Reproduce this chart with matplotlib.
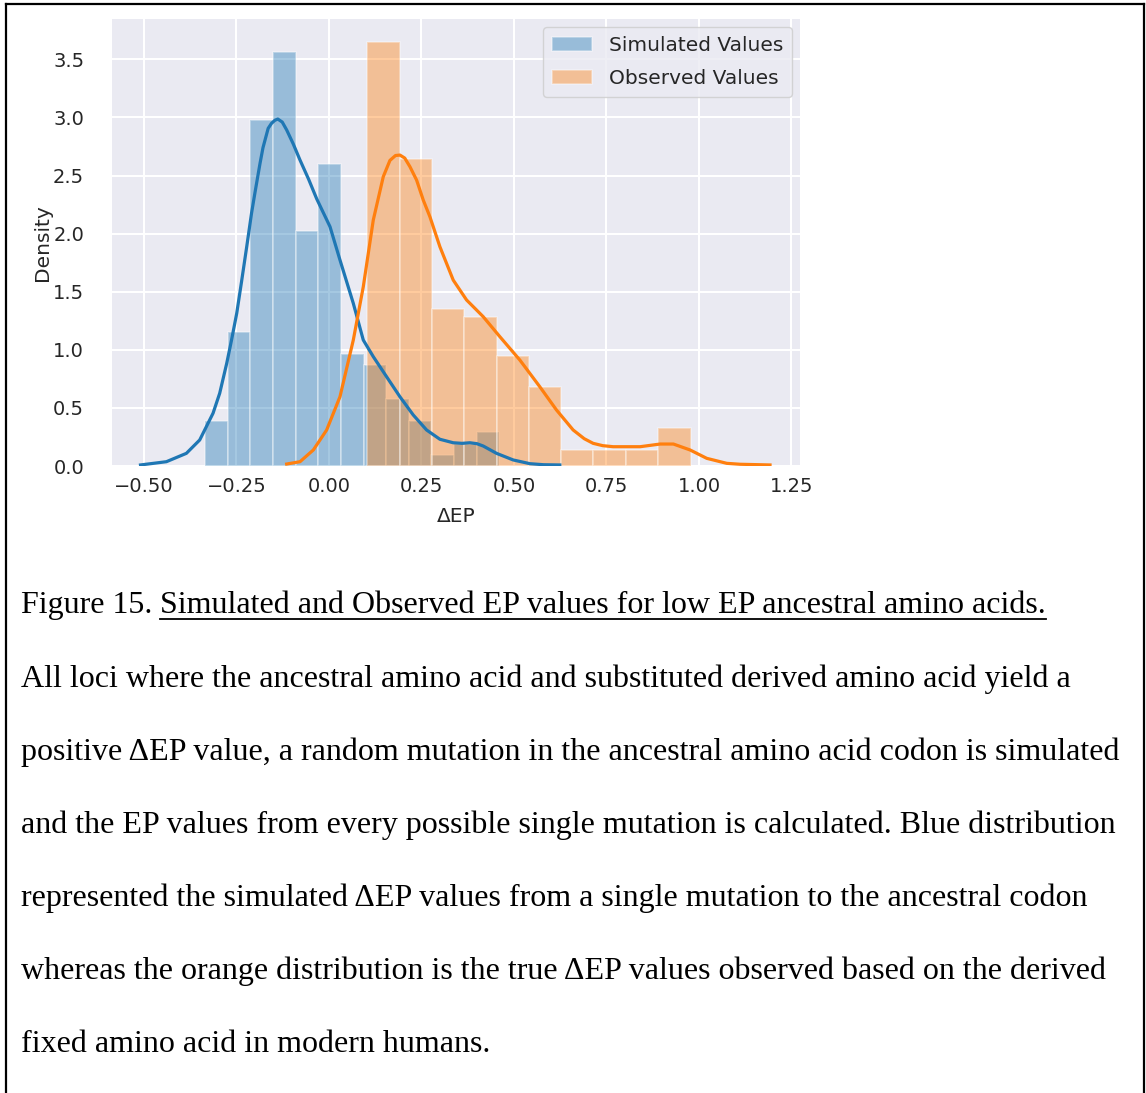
import matplotlib.pyplot as plt
import numpy as np
from matplotlib.lines import Line2D

# Histogram bins and densities for the two distributions
sim_edges = [-0.334, -0.273, -0.212, -0.151, -0.090, -0.029, 0.033, 0.094,
             0.155, 0.216, 0.277, 0.338, 0.399, 0.460]
sim_density = [0.385, 1.154, 2.98, 3.56, 2.02, 2.60, 0.962, 0.866,
               0.577, 0.385, 0.096, 0.192, 0.289]

obs_edges = [0.104, 0.191, 0.278, 0.366, 0.453, 0.541, 0.628, 0.715,
             0.803, 0.890, 0.978]
obs_density = [3.65, 2.64, 1.35, 1.28, 0.95, 0.68, 0.135, 0.135, 0.135, 0.33]

# KDE curves
sim_kde_x = [-0.509, -0.439, -0.385, -0.349, -0.313, -0.295, -0.276, -0.263,
             -0.249, -0.236, -0.222, -0.209, -0.200, -0.186, -0.178, -0.164,
             -0.155, -0.146, -0.138, -0.126, -0.114, -0.096, -0.078, -0.055,
             -0.033, 0.003, 0.030, 0.066, 0.093, 0.120, 0.156, 0.192, 0.228,
             0.264, 0.300, 0.336, 0.360, 0.381, 0.400, 0.417, 0.453, 0.498,
             0.543, 0.580, 0.624]
sim_kde_y = [0.009, 0.037, 0.109, 0.224, 0.454, 0.626, 0.884, 1.084,
             1.314, 1.586, 1.887, 2.175, 2.347, 2.605, 2.740, 2.906,
             2.949, 2.975, 2.986, 2.960, 2.892, 2.770, 2.633, 2.470,
             2.300, 2.060, 1.773, 1.400, 1.084, 0.941, 0.768, 0.596, 0.439,
             0.310, 0.230, 0.200, 0.195, 0.200, 0.192, 0.172, 0.109, 0.052,
             0.020, 0.011, 0.009]

obs_kde_x = [-0.114, -0.078, -0.042, -0.006, 0.030, 0.066, 0.093, 0.120,
             0.147, 0.165, 0.180, 0.192, 0.205, 0.219, 0.237, 0.255, 0.273,
             0.300, 0.336, 0.372, 0.417, 0.462, 0.516, 0.570, 0.615, 0.660,
             0.690, 0.714, 0.740, 0.768, 0.841, 0.895, 0.931, 0.976, 1.021,
             1.075, 1.111, 1.192]
obs_kde_y = [0.017, 0.037, 0.138, 0.310, 0.596, 1.084, 1.543, 2.117,
             2.490, 2.630, 2.672, 2.676, 2.650, 2.576, 2.461, 2.289, 2.145,
             1.887, 1.600, 1.429, 1.285, 1.113, 0.912, 0.682, 0.482, 0.310,
             0.235, 0.195, 0.175, 0.166, 0.166, 0.189, 0.189, 0.138, 0.066,
             0.023, 0.015, 0.009]

x_ticks = [-0.50, -0.25, 0.00, 0.25, 0.50, 0.75, 1.00, 1.25]
y_ticks = [0.0, 0.5, 1.0, 1.5, 2.0, 2.5, 3.0, 3.5]

caption_title = "Simulated and Observed EP values for low EP ancestral amino acids."
caption_lines = [
    "All loci where the ancestral amino acid and substituted derived amino acid yield a",
    "positive \u0394EP value, a random mutation in the ancestral amino acid codon is simulated",
    "and the EP values from every possible single mutation is calculated. Blue distribution",
    "represented the simulated \u0394EP values from a single mutation to the ancestral codon",
    "whereas the orange distribution is the true \u0394EP values observed based on the derived",
    "fixed amino acid in modern humans.",
]

W, H = 1146, 1093
fig = plt.figure(figsize=(W / 100, H / 100), dpi=100)
fig.patch.set_facecolor('white')

ax = fig.add_axes([112 / W, 1 - 466 / H, 688 / W, 447 / H])
ax.set_facecolor('#EAEAF2')
for sp in ax.spines.values():
    sp.set_visible(False)
ax.grid(True, color='white', linewidth=1.5)
ax.set_axisbelow(True)

blue, orange = '#1f77b4', '#ff7f0e'

ax.bar(sim_edges[:-1], sim_density, width=np.diff(sim_edges), align='edge',
       color=blue, alpha=0.4, edgecolor='white', linewidth=1.2,
       label='Simulated Values')
ax.plot(sim_kde_x, sim_kde_y, color=blue, linewidth=2.3,
        solid_joinstyle='round')

ax.bar(obs_edges[:-1], obs_density, width=np.diff(obs_edges), align='edge',
       color=orange, alpha=0.4, edgecolor='white', linewidth=1.2,
       label='Observed Values')
ax.plot(obs_kde_x, obs_kde_y, color=orange, linewidth=2.3,
        solid_joinstyle='round')

ax.set_xlim(-0.586, 1.273)
ax.set_ylim(0, 3.847)
ax.set_xticks(x_ticks)
ax.set_yticks(y_ticks)
ax.tick_params(length=0, labelsize=14, labelcolor='0.15')
ax.tick_params(axis='y', pad=20)
ax.tick_params(axis='x', pad=8)

ax.set_ylabel('Density', fontsize=14.5, color='0.15')
ax.set_xlabel('\u0394EP', fontsize=14.5, color='0.15')
ax.yaxis.set_label_coords(-0.087, 0.5)
ax.xaxis.set_label_coords(0.5, -0.092)

leg = ax.legend(loc='upper right', fontsize=14.5, frameon=True,
                facecolor='#EAEAF2', edgecolor='0.8', framealpha=0.8,
                borderaxespad=0.4, labelspacing=0.7, borderpad=0.45)
for t in leg.get_texts():
    t.set_color('0.15')

# caption below the chart
serif = 'Liberation Serif'
fs = 23
x0 = 20.7 / W
fig.text(x0, 1 - 613.3 / H, "Figure 15.", family=serif, fontsize=fs,
         va='baseline', ha='left')
title = fig.text(160 / W, 1 - 613.3 / H, caption_title, family=serif,
                 fontsize=fs, va='baseline', ha='left')
for i, line in enumerate(caption_lines):
    fig.text(x0, 1 - (686.5 + 73.2 * i) / H, line, family=serif, fontsize=fs,
             va='baseline', ha='left')

fig.canvas.draw()
bb = title.get_window_extent(renderer=fig.canvas.get_renderer())
uy = 1 - 618.5 / H
fig.add_artist(Line2D([bb.x0 / W, bb.x1 / W], [uy, uy], color='black',
                      linewidth=1.3, transform=fig.transFigure))

# page frame: left, top and right edges
for xs, ys in [([5.7 / W, 5.7 / W], [0, 1 - 4 / H]),
               ([5.7 / W, 1143.7 / W], [1 - 4 / H, 1 - 4 / H]),
               ([1143.7 / W, 1143.7 / W], [1 - 4 / H, 0])]:
    fig.add_artist(Line2D(xs, ys, color='black', linewidth=1.6,
                          transform=fig.transFigure))

fig.savefig('out.png', dpi=100)
